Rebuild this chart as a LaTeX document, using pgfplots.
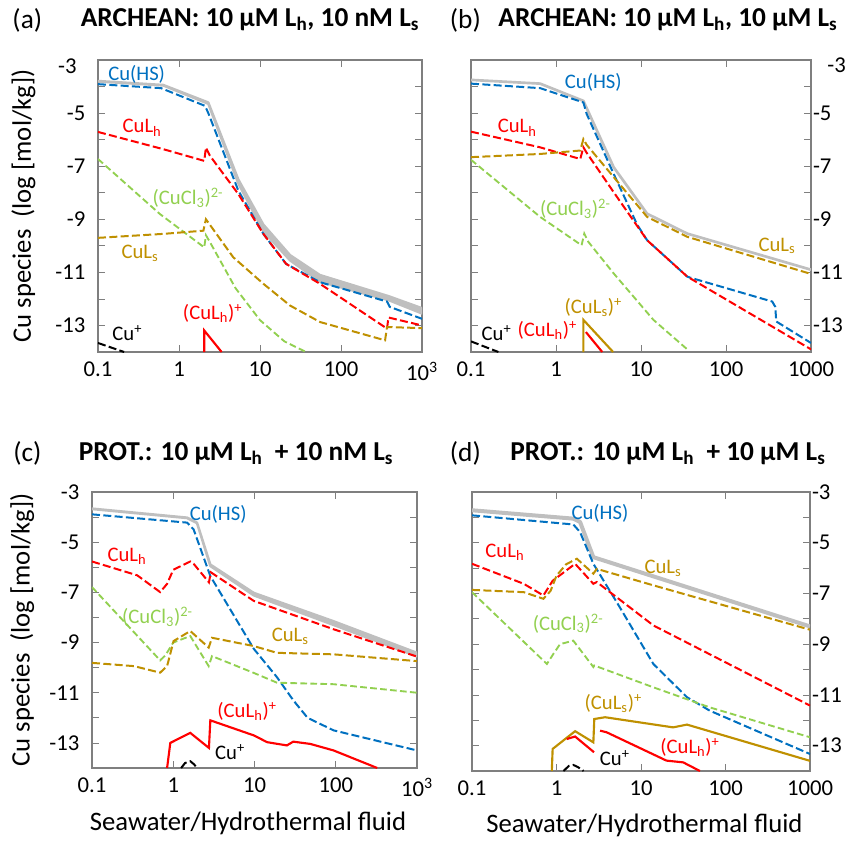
\documentclass[border=0pt]{standalone}
\usepackage{pgfplots}
\pgfplotsset{compat=1.18}
\usepackage{fontspec}
\setmainfont{Carlito}
\definecolor{cblue}{HTML}{0070C0}
\definecolor{cred}{HTML}{FF0000}
\definecolor{cgreen}{HTML}{92D050}
\definecolor{cgold}{HTML}{BF9000}
\definecolor{cgray}{HTML}{BFBFBF}
\definecolor{frame}{HTML}{7F7F7F}
\newcommand{\tfont}{\fontsize{20.5}{23}\selectfont}
\newcommand{\lfont}{\fontsize{15.5}{18}\selectfont}
\newcommand{\kfont}{\fontsize{17}{19}\selectfont}
\pgfplotsset{
  every axis/.append style={
    scale only axis, xmode=log, xmin=0.1, xmax=1000, ymin=-14, ymax=-3,
    clip=true,
    axis line style={draw=frame, line width=0.8pt},
    every tick/.style={draw=frame, line width=0.6pt},
    tick align=inside,
    major tick length=5pt, minor tick length=3.5pt,
    ytick={-14,-13,...,-3},
    ticklabel style={font=\kfont},
    xticklabel style={yshift=-4pt},
    log basis x=10,
  },
  tot/.style={cgray, line width=2.5pt, line join=round},
  band/.style={cgray, fill=cgray, line width=1.8pt, line join=round},
  sp/.style={line width=1.5pt, dash pattern=on 6pt off 2.5pt},
  spg/.style={line width=1.4pt, dash pattern=on 5pt off 2.5pt},
  so/.style={line width=1.6pt},
}
\begin{document}
\begin{tikzpicture}
\useasboundingbox (0,0) rectangle (633.75pt,-630.75pt);
% titles
\node[font=\tfont] at (20.5pt,-15pt) {(a)};
\node[font=\tfont\bfseries] at (187.5pt,-15pt) {ARCHEAN: 10 µM L\textsubscript{h}, 10 nM L\textsubscript{s}};
\node[font=\tfont] at (349pt,-15pt) {(b)};
\node[font=\tfont\bfseries] at (501pt,-15pt) {ARCHEAN: 10 µM L\textsubscript{h}, 10 µM L\textsubscript{s}};
\node[font=\tfont] at (20.5pt,-340pt) {(c)};
\node[font=\tfont\bfseries] at (177pt,-340pt) {PROT.: 10 µM L\textsubscript{h}~ + 10 nM L\textsubscript{s}};
\node[font=\tfont] at (349pt,-340pt) {(d)};
\node[font=\tfont\bfseries] at (501pt,-340pt) {PROT.: 10 µM L\textsubscript{h}~ + 10 µM L\textsubscript{s}};
% shifted top tick labels of (a) and (b)
\node[font=\kfont, anchor=east] at (61pt,-50pt) {-3};
\node[font=\kfont, anchor=west] at (617pt,-49pt) {-3};

% ---------------- (a)
\begin{axis}[at={(73.5pt,-45pt)}, anchor=north west, width=243pt, height=219pt,
  xtick={0.1,1,10,100,1000}, xticklabels={0.1,1,10,100,10\textsuperscript{3}},
  yticklabels={{},-13,{},-11,{},-9,{},-7,{},-5,{},{}},
  yticklabel style={xshift=-6pt},
  ylabel={Cu species~ (log [mol/kg])},
  ylabel style={font=\fontsize{20}{22}\selectfont, at={(axis description cs:-0.23,0.5)}, anchor=center},
]
\addplot[band] coordinates {(0.1,-3.79)(0.64,-3.94)(2.3,-4.6)(5.4,-7.5)(11,-9.2)(23.5,-10.35)(55,-11.1)(390,-11.9)(1000,-12.35)
  (1000,-12.55)(390,-12.05)(55,-11.35)(23.5,-10.55)(11,-9.45)(5.4,-7.65)(2.3,-4.65)(0.64,-3.96)(0.1,-3.81)} -- cycle;
\addplot[cblue,sp] coordinates {(0.1,-3.91)(0.6,-4.06)(2.1,-4.73)(2.3,-5.0)(5.4,-7.92)(11,-9.55)(21,-10.68)(55,-11.37)(370,-12.1)(400,-12.3)(1000,-12.75)};
\addplot[cred,sp] coordinates {(0.1,-5.71)(0.64,-6.36)(2.05,-6.8)(2.15,-6.3)(2.4,-6.6)(5.4,-8.05)(11,-9.55)(21,-10.68)(55,-11.43)(370,-13.12)(385,-12.7)(1000,-13.0)};
\addplot[cgreen,spg] coordinates {(0.1,-6.73)(0.58,-8.8)(2.05,-10.06)(2.15,-9.6)(2.4,-9.85)(5,-11.6)(10,-12.8)(20,-13.6)(37,-14)};
\addplot[cgold,sp] coordinates {(0.1,-9.7)(0.64,-9.55)(2.0,-9.43)(2.15,-9.0)(4.67,-10.43)(11,-11.43)(23.5,-12.25)(55,-12.87)(350,-13.56)(370,-13.06)(1000,-13.1)};
\addplot[black,sp] coordinates {(0.1,-13.66)(0.21,-14)};
\addplot[cred,so] coordinates {(2.05,-14)(2.05,-13.19)(3.36,-14)};
\node[cblue,font=\lfont] at (axis cs:0.30,-3.53) {Cu(HS)};
\node[cred,font=\lfont] at (axis cs:0.35,-5.56) {CuL\textsubscript{h}};
\node[cgreen,font=\lfont] at (axis cs:1.29,-8.19) {(CuCl\textsubscript{3})\textsuperscript{2-}};
\node[cgold,font=\lfont] at (axis cs:0.33,-10.3) {CuL\textsubscript{s}};
\node[cred,font=\lfont] at (axis cs:2.6,-12.55) {(CuL\textsubscript{h})\textsuperscript{+}};
\node[black,font=\lfont] at (axis cs:0.23,-13.3) {Cu\textsuperscript{+}};
\end{axis}

% ---------------- (b)
\begin{axis}[at={(353.25pt,-45pt)}, anchor=north west, width=255pt, height=219pt,
  xtick={0.1,1,10,100,1000}, xticklabels={0.1,1,10,100,1000},
  yticklabels={{},-13,{},-11,{},-9,{},-7,{},-5,{},{}},
  yticklabel pos=right, yticklabel style={xshift=-2pt},
]
\addplot[tot, line width=2pt] coordinates {(0.1,-3.75)(0.65,-3.89)(2.1,-4.54)(4.77,-7.04)(11.8,-8.79)(35,-9.54)(1000,-10.9)};
\addplot[cblue,sp] coordinates {(0.1,-3.89)(0.65,-4.06)(2.1,-4.6)(2.3,-5.04)(4.77,-7.29)(9,-9.2)(11.8,-9.79)(35,-11.16)(38,-11.2)(350,-12.1)(380,-12.3)(390,-12.85)(1000,-13.66)};
\addplot[cred,sp] coordinates {(0.1,-5.7)(0.65,-6.29)(1.93,-6.73)(2.1,-6.29)(2.3,-6.5)(4.77,-7.98)(11.8,-9.79)(35,-11.16)(1000,-13.9)};
\addplot[cgold,sp] coordinates {(0.1,-6.66)(0.65,-6.54)(1.93,-6.41)(2.1,-5.98)(2.3,-6.2)(4.77,-7.41)(11.8,-8.91)(35,-9.66)(1000,-11.06)};
\addplot[cgreen,spg] coordinates {(0.1,-6.76)(0.65,-8.91)(2.0,-9.98)(2.15,-9.54)(2.4,-9.85)(4.77,-11.04)(14,-12.79)(35,-13.9)};
\addplot[black,sp] coordinates {(0.1,-13.6)(0.21,-14)};
\addplot[cgold,so] coordinates {(2.1,-14)(2.1,-12.79)(4.7,-14)};
\addplot[cred,so] coordinates {(2.25,-13.25)(3.5,-14)};
\node[cblue,font=\lfont] at (axis cs:2.75,-3.86) {Cu(HS)};
\node[cred,font=\lfont] at (axis cs:0.35,-5.56) {CuL\textsubscript{h}};
\node[cgreen,font=\lfont] at (axis cs:1.69,-8.6) {(CuCl\textsubscript{3})\textsuperscript{2-}};
\node[cgold,font=\lfont] at (axis cs:398,-10.0) {CuL\textsubscript{s}};
\node[cgold,font=\lfont] at (axis cs:2.75,-12.32) {(CuL\textsubscript{s})\textsuperscript{+}};
\node[cred,font=\lfont] at (axis cs:0.79,-13.19) {(CuL\textsubscript{h})\textsuperscript{+}};
\node[black,font=\lfont] at (axis cs:0.2,-13.3) {Cu\textsuperscript{+}};
\end{axis}

% ---------------- (c)
\begin{axis}[at={(69pt,-369pt)}, anchor=north west, width=243.75pt, height=207pt,
  xtick={0.1,1,10,100,1000}, xticklabels={0.1,1,10,100,10\textsuperscript{3}},
  yticklabels={{},-13,{},-11,{},-9,{},-7,{},-5,{},-3},
  yticklabel style={xshift=-6pt},
  ylabel={Cu species~ (log [mol/kg])},
  ylabel style={font=\fontsize{20}{22}\selectfont, at={(axis description cs:-0.215,0.5)}, anchor=center},
  xlabel={Seawater/Hydrothermal fluid},
  xlabel style={font=\fontsize{20}{22}\selectfont, at={(axis description cs:0.48,-0.2)}, anchor=center},
]
\addplot[band] coordinates {(0.1,-3.66)(1.48,-4.02)(1.96,-4.22)(2.86,-5.89)(9.8,-7.02)(94,-8.15)(1000,-9.41)
  (1000,-9.55)(94,-8.3)(9.8,-7.12)(2.86,-5.95)(1.96,-4.24)(1.48,-4.04)(0.1,-3.68)} -- cycle;
\addplot[cblue,sp] coordinates {(0.1,-3.89)(1.48,-4.22)(1.78,-4.49)(2.86,-6.35)(9.8,-9.25)(18.9,-10.38)(30,-11.3)(45,-12.0)(94,-12.5)(1000,-13.3)};
\addplot[cred,sp] coordinates {(0.1,-5.77)(0.36,-6.32)(0.69,-6.99)(0.84,-6.66)(1.0,-6.1)(1.62,-5.77)(1.78,-5.86)(2.75,-6.6)(2.9,-6.2)(9.8,-7.34)(94,-8.47)(1000,-9.56)};
\addplot[cgreen,spg] coordinates {(0.1,-6.79)(0.69,-9.71)(0.8,-9.51)(1.0,-9.0)(1.62,-8.74)(2.73,-9.94)(3.0,-9.54)(9.8,-10.21)(18.9,-10.6)(94,-10.66)(1000,-11)};
\addplot[cgold,sp] coordinates {(0.1,-9.81)(0.33,-9.94)(0.69,-10.2)(0.84,-9.94)(1.01,-8.94)(1.62,-8.54)(2.73,-9.2)(3.0,-8.81)(9.8,-9.14)(18.9,-9.41)(94,-9.47)(1000,-9.74)};
\addplot[cred,so] coordinates {(0.84,-14)(0.92,-13)(1.62,-12.6)(2.75,-13.2)(2.86,-12.1)(9.8,-12.7)(14.3,-12.97)(25,-13.1)(30,-12.95)(48.6,-13.04)(94,-13.3)(324,-14)};
\addplot[black,sp] coordinates {(1.25,-14)(1.4,-13.8)(1.62,-13.73)(1.8,-13.85)(1.96,-14)};
\node[cblue,font=\lfont] at (axis cs:3.58,-3.89) {Cu(HS)};
\node[cred,font=\lfont] at (axis cs:0.27,-5.56) {CuL\textsubscript{h}};
\node[cgreen,font=\lfont] at (axis cs:0.64,-7.96) {(CuCl\textsubscript{3})\textsuperscript{2-}};
\node[cgold,font=\lfont] at (axis cs:27.6,-8.76) {CuL\textsubscript{s}};
\node[cred,font=\lfont] at (axis cs:8.1,-11.75) {(CuL\textsubscript{h})\textsuperscript{+}};
\node[black,font=\lfont] at (axis cs:5.0,-13.38) {Cu\textsuperscript{+}};
\end{axis}

% ---------------- (d)
\begin{axis}[at={(354pt,-369pt)}, anchor=north west, width=253.5pt, height=209.25pt,
  xtick={0.1,1,10,100,1000}, xticklabels={0.1,1,10,100,1000},
  yticklabels={{},-13,{},-11,{},-9,{},-7,{},-5,{},-3},
  yticklabel pos=right, yticklabel style={xshift=-2pt},
  xlabel={Seawater/Hydrothermal fluid},
  xlabel style={font=\fontsize{20}{22}\selectfont, at={(axis description cs:0.51,-0.195)}, anchor=center},
]
\addplot[tot, line width=3pt] coordinates {(0.1,-3.72)(1.58,-4.05)(1.9,-4.18)(2.73,-5.57)(1000,-8.3)};
\addplot[cblue,sp] coordinates {(0.1,-3.92)(1.58,-4.28)(1.9,-4.58)(2.73,-5.83)(5.6,-7.54)(14,-9.78)(35,-11.09)(65,-11.62)(1000,-13.33)};
\addplot[cred,sp] coordinates {(0.1,-5.83)(0.41,-6.62)(0.7,-7.08)(0.9,-6.5)(1.66,-5.83)(2.73,-6.62)(3.0,-6.55)(14,-8.26)(1000,-11.42)};
\addplot[cgold,sp] coordinates {(0.1,-6.86)(0.41,-6.95)(0.7,-7.21)(0.85,-6.9)(1.0,-6.3)(1.3,-5.85)(1.74,-5.63)(2.73,-6.22)(3.0,-6.03)(14,-6.68)(1000,-8.43)};
\addplot[cgreen,spg] coordinates {(0.1,-6.95)(0.77,-9.78)(0.92,-9.38)(1.1,-9.0)(1.58,-8.86)(2.73,-9.9)(2.8,-9.84)(14,-10.7)(65,-11.49)(1000,-12.67)};
\addplot[cgold,so] coordinates {(0.88,-14)(0.9,-13.13)(1.66,-12.43)(2.73,-12.87)(2.8,-11.95)(3.76,-11.88)(24,-12.28)(35,-12.17)(1000,-13.6)};
\addplot[cred,so] coordinates {(1.32,-12.74)(1.66,-12.64)(2.78,-13.26)};
\addplot[cred,so] coordinates {(3.28,-12.41)(3.9,-12.47)(20,-13.59)(31.6,-13.66)(49.8,-14)};
\addplot[black,sp] coordinates {(1.21,-14)(1.4,-13.8)(1.58,-13.76)(1.8,-13.85)(2.09,-14)};
\node[cblue,font=\lfont] at (axis cs:3.27,-3.84) {Cu(HS)};
\node[cred,font=\lfont] at (axis cs:0.245,-5.38) {CuL\textsubscript{h}};
\node[cgold,font=\lfont] at (axis cs:18.2,-6.01) {CuL\textsubscript{s}};
\node[cgreen,font=\lfont] at (axis cs:1.37,-8.18) {(CuCl\textsubscript{3})\textsuperscript{2-}};
\node[cgold,font=\lfont] at (axis cs:4.7,-11.34) {(CuL\textsubscript{s})\textsuperscript{+}};
\node[cred,font=\lfont] at (axis cs:38,-13.08) {(CuL\textsubscript{h})\textsuperscript{+}};
\node[black,font=\lfont] at (axis cs:4.9,-13.51) {Cu\textsuperscript{+}};
\end{axis}
\end{tikzpicture}
\end{document}
